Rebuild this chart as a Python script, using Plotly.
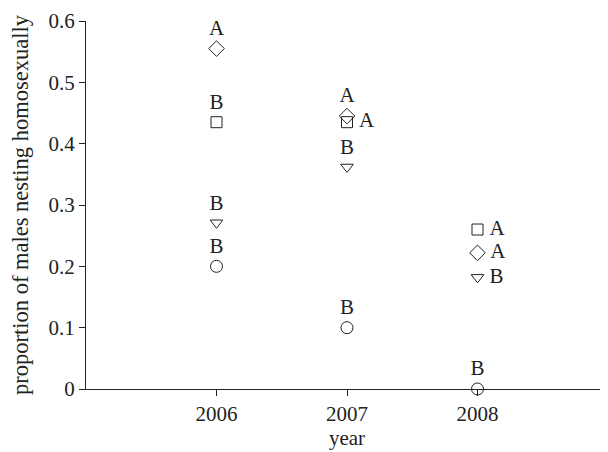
import plotly.graph_objects as go

years = [2006, 2007, 2008]
diamond_vals = [0.555, 0.445, 0.222]
square_vals = [0.435, 0.435, 0.26]
triangle_vals = [0.271, 0.362, 0.182]
circle_vals = [0.2, 0.1, 0.0]

diamond_labels = ["A", "A", "A"]
square_labels = ["B", "A", "A"]
triangle_labels = ["B", "B", "B"]
circle_labels = ["B", "B", "B"]

diamond_pos = ["top center", "top center", "middle right"]
square_pos = ["top center", "middle right", "middle right"]
triangle_pos = ["top center", "top center", "middle right"]
circle_pos = ["top center", "top center", "top center"]

font = dict(family="Liberation Serif", size=21, color="#222")


def pad(labels, pos):
    # a small gap between a marker and a label placed to its right
    return [("\u2009" + t if p == "middle right" else t) for t, p in zip(labels, pos)]


fig = go.Figure()
for vals, labels, pos, sym, size in [
    (diamond_vals, diamond_labels, diamond_pos, "diamond-open", 12),
    (square_vals, square_labels, square_pos, "square-open", 11),
    (triangle_vals, triangle_labels, triangle_pos, "triangle-down-open", 11),
    (circle_vals, circle_labels, circle_pos, "circle-open", 12),
]:
    fig.add_trace(go.Scatter(
        x=years, y=vals, mode="markers+text", text=pad(labels, pos), textposition=pos,
        textfont=font, cliponaxis=False,
        marker=dict(symbol=sym, size=size, color="#222", line=dict(width=1, color="#222")),
        showlegend=False,
    ))

# page body has an 8px margin, so the figure is sized 600x444 and margins compensate
fig.update_layout(
    width=600, height=444, paper_bgcolor="white", plot_bgcolor="white",
    margin=dict(l=76, r=0, t=13, b=63),
    font=dict(family="Liberation Serif", size=21, color="#222"),
)
fig.update_xaxes(
    range=[2005, 2009], tickvals=years, ticktext=[str(y) for y in years],
    showline=True, linecolor="#222", linewidth=1, ticks="outside", ticklen=6,
    tickcolor="#222", showgrid=False, zeroline=False,
    title=dict(text="year", standoff=2, font=dict(size=21)), tickfont=dict(size=21),
)
fig.update_yaxes(
    range=[0, 0.6], tickvals=[0, 0.1, 0.2, 0.3, 0.4, 0.5, 0.6],
    ticktext=["0", "0.1", "0.2", "0.3", "0.4", "0.5", "0.6"],
    showline=True, linecolor="#222", linewidth=1, ticks="outside", ticklen=6,
    tickcolor="#222", showgrid=False, zeroline=False,
    title=dict(text="proportion of males nesting homosexually", standoff=25, font=dict(size=22.5)),
    tickfont=dict(size=21),
)
fig.write_html("out.html")
